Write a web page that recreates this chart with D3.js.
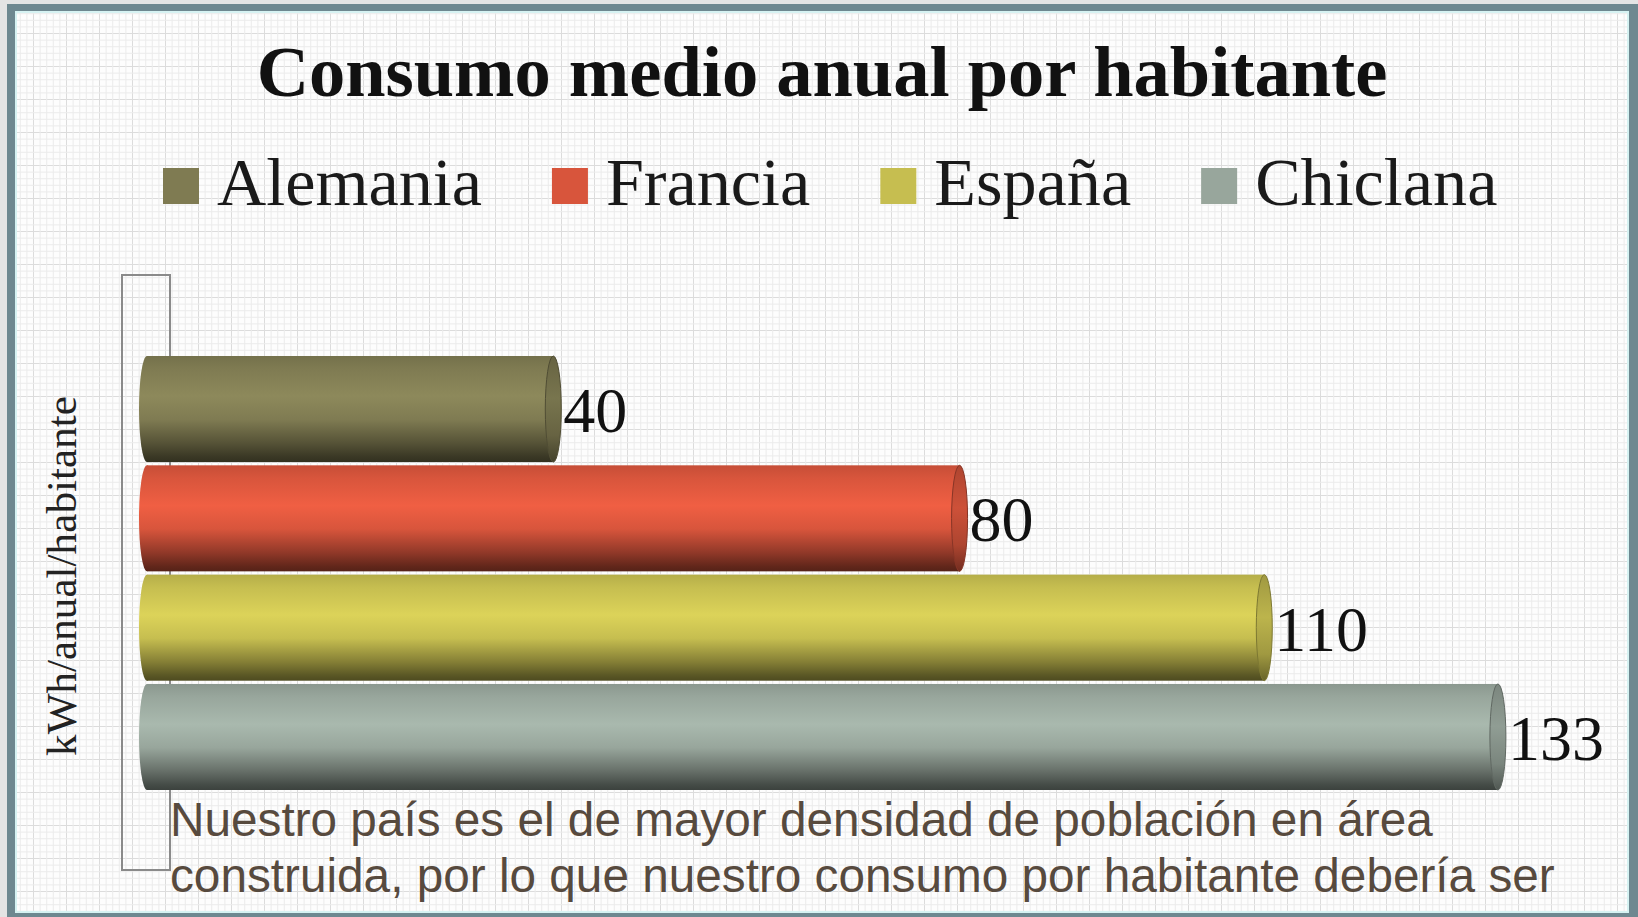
<!DOCTYPE html>
<html>
<head>
<meta charset="utf-8">
<script src="https://cdn.jsdelivr.net/npm/d3@7"></script>
<style>
  html, body { margin:0; padding:0; background:#e4e4e4; }
  #canvas { width:1638px; height:917px; }
</style>
</head>
<body>
<div id="canvas" class="canvas"></div>
<script>
//data
var countries = ['Alemania','Francia','España','Chiclana'];
var consumo = [40,80,110,133];
var titulo = 'Consumo medio anual por habitante';
var ejeY = 'kWh/anual/habitante';
var nota = ['Nuestro país es el de mayor densidad de población en área',
            'construida, por lo que nuestro consumo por habitante debería ser'];

var W = 1638, H = 917;
var serif = '"Liberation Serif","Times New Roman",serif';
var sans = '"Liberation Sans",Arial,sans-serif';

var svg = d3.select('.canvas')
    .append('svg')
    .attr('width',W)
    .attr('height',H);
var defs = svg.append('defs');

//1, frame + grid paper background
var pat = defs.append('pattern')
    .attr('id','grid')
    .attr('patternUnits','userSpaceOnUse')
    .attr('width',33).attr('height',33);
pat.append('rect').attr('width',33).attr('height',33).attr('fill','#fdfdfd');
d3.range(5).forEach(function(i){
    var p = i*6.6 + 0.5;
    var c = i==0 ? '#dcdcdc' : '#ececec';
    pat.append('line').attr('x1',p).attr('x2',p).attr('y1',0).attr('y2',33).attr('stroke',c);
    pat.append('line').attr('y1',p).attr('y2',p).attr('x1',0).attr('x2',33).attr('stroke',c);
});

svg.append('rect')
    .attr('x',7).attr('y',4)
    .attr('width',W).attr('height',H)
    .attr('fill','#6e8890');
svg.append('rect')
    .attr('x',16).attr('y',12)
    .attr('width',1612).attr('height',900)
    .attr('fill','url(#grid)')
    .attr('stroke','#d6f2f2')
    .attr('stroke-width',2);

//fit a text node to a width measured on the picture
function fit(sel, target){
    var w = sel.node().getComputedTextLength();
    var fs = parseFloat(sel.attr('font-size'));
    sel.attr('font-size', fs*target/w);
    return sel;
}

//2, title
var t = svg.append('text')
    .attr('x',822).attr('y',96)
    .attr('text-anchor','middle')
    .attr('font-family',serif)
    .attr('font-weight','bold')
    .attr('font-size',60)
    .attr('fill','#111')
    .text(titulo);
fit(t,1131);

//3, scales
var color = d3.scaleOrdinal()
    .domain(countries)
    .range(['#7f7b52','#d8553c','#c6be50','#98a69c']);

var scaleY = d3.scaleBand()
    .domain(countries)
    .range([356,790])
    .paddingInner(0.03);

var scaleX = d3.scaleLinear()
    .domain([0,140])
    .range([147,1569]);

var rx = 8;

//4, legend
var legend = svg.append('g').attr('class','legend');
var lx = 163;
countries.forEach(function(c){
    var g = legend.append('g').attr('transform','translate(' + lx + ',168)');
    g.append('rect')
        .attr('width',36).attr('height',36)
        .attr('fill',color(c));
    var lt = g.append('text')
        .attr('x',54).attr('y',37)
        .attr('font-family',serif)
        .attr('font-size',56)
        .attr('fill','#1a1a1a')
        .text(c);
    if(c=='Alemania') fit(lt,265);
    else lt.attr('font-size', legend.select('text').attr('font-size'));
    lx = lx + 54 + lt.node().getComputedTextLength() + 70;
});

//5, y axis box + label
svg.append('rect')
    .attr('x',122).attr('y',275)
    .attr('width',48).attr('height',595)
    .attr('fill','none')
    .attr('stroke','#8a8a8a')
    .attr('stroke-width',2);

var yl = svg.append('text')
    .attr('transform','translate(76,576) rotate(-90)')
    .attr('text-anchor','middle')
    .attr('font-family',serif)
    .attr('font-size',32)
    .attr('fill','#222')
    .text(ejeY);
fit(yl,360);

//6, cylinder gradients
countries.forEach(function(c,i){
    var base = d3.color(color(c));
    var g = defs.append('linearGradient')
        .attr('id','cyl'+i)
        .attr('x1',0).attr('x2',0).attr('y1',0).attr('y2',1);
    var stops = [[0,base.darker(0.25)],[0.12,base],[0.38,base.brighter(0.3)],
                 [0.6,base],[0.82,base.darker(1.1)],[0.95,base.darker(2.2)],[1,base.darker(2.6)]];
    stops.forEach(function(s){
        g.append('stop').attr('offset',s[0]).attr('stop-color',s[1].formatHex());
    });
    var cg = defs.append('linearGradient')
        .attr('id','cap'+i)
        .attr('x1',0).attr('x2',0).attr('y1',0).attr('y2',1);
    [[0,base.darker(0.6)],[0.4,base.darker(0.15)],[0.75,base.darker(0.6)],[1,base.darker(1.8)]].forEach(function(s){
        cg.append('stop').attr('offset',s[0]).attr('stop-color',s[1].formatHex());
    });
});

//7, bars
var bars = svg.selectAll('g.bar')
    .data(countries)
    .enter()
    .append('g')
    .attr('class','bar')
    .attr('transform',function(d){return 'translate(0,' + scaleY(d) + ')'});

var bw = scaleY.bandwidth();

bars.append('ellipse')
    .attr('cx',scaleX(0))
    .attr('cy',bw/2)
    .attr('rx',rx).attr('ry',bw/2)
    .attr('fill',function(d,i){return 'url(#cyl'+i+')'});

bars.append('rect')
    .attr('x',scaleX(0))
    .attr('y',0)
    .attr('width',function(d,i){return scaleX(consumo[i]) - scaleX(0)})
    .attr('height',bw)
    .attr('fill',function(d,i){return 'url(#cyl'+i+')'});

bars.append('ellipse')
    .attr('cx',function(d,i){return scaleX(consumo[i])})
    .attr('cy',bw/2)
    .attr('rx',rx).attr('ry',bw/2)
    .attr('fill',function(d,i){return 'url(#cap'+i+')'})
    .attr('stroke',function(d){return d3.color(color(d)).darker(1.3)})
    .attr('stroke-width',1);

bars.append('text')
    .attr('x',function(d,i){return scaleX(consumo[i]) + rx + 2})
    .attr('y',bw/2 + 23)
    .attr('font-family',serif)
    .attr('font-size',64)
    .attr('fill','#111')
    .text(function(d,i){return consumo[i]});

//8, bottom note
var notaFs = 42;
nota.forEach(function(line,i){
    var n = svg.append('text')
        .attr('class','nota')
        .attr('x',170).attr('y',836 + i*56)
        .attr('font-family',sans)
        .attr('font-size',notaFs)
        .attr('fill','#574a3e')
        .text(line);
    if(i==0){ fit(n,1263); notaFs = +n.attr('font-size'); }
});
</script>
</body>
</html>
